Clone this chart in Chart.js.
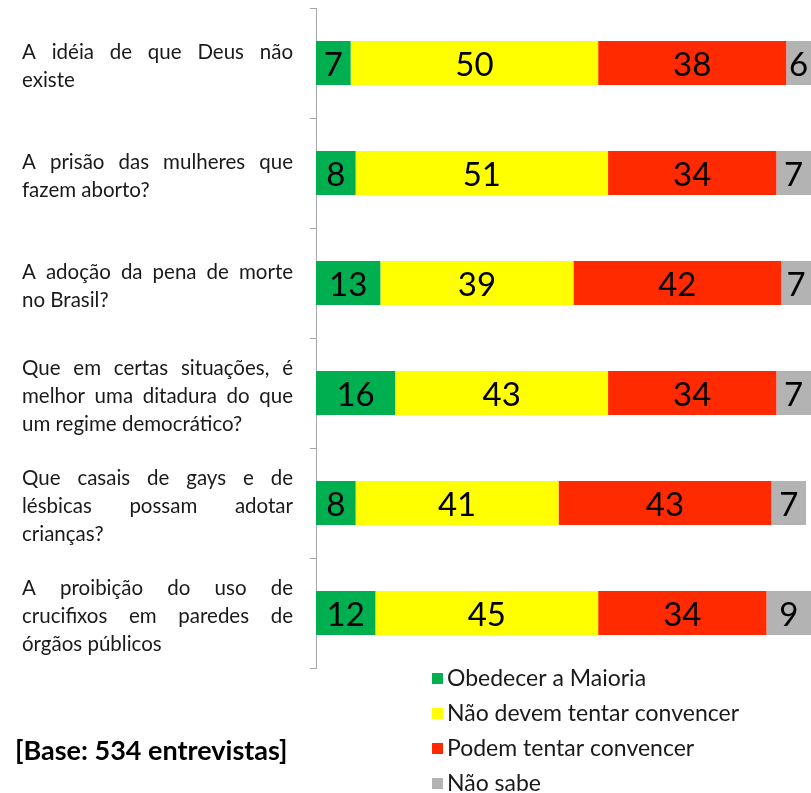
<!DOCTYPE html>
<html lang="pt-BR">
  <head>
    <meta charset="UTF-8" />
    <title>Obedecer a maioria</title>
    <script src="https://cdn.jsdelivr.net/npm/chart.js@4.4.0/dist/chart.umd.min.js"></script>
    <style>
      html, body { margin: 0; padding: 0; background: #fff; overflow: hidden; }
      #wrap { width: 811px; height: 793px; }
    </style>
  </head>
  <body>
    <div id="wrap"><canvas id="chart" width="811" height="793"></canvas></div>

    <script>
      // categorias (linhas do texto da esquerda)
      const categories = [
        ["A idéia de que Deus não", "existe"],
        ["A prisão das mulheres que", "fazem aborto?"],
        ["A adoção da pena de morte", "no Brasil?"],
        ["Que em certas situações, é", "melhor uma ditadura do que", "um regime democrático?"],
        ["Que casais de gays e de", "lésbicas possam adotar", "crianças?"],
        ["A proibição do uso de", "crucifixos em paredes de", "órgãos públicos"],
      ];

      const seriesNames = [
        "Obedecer a Maioria",
        "Não devem tentar convencer",
        "Podem tentar convencer",
        "Não sabe",
      ];
      const obedecer = [7, 8, 13, 16, 8, 12];
      const naoDevem = [50, 51, 39, 43, 41, 45];
      const podem = [38, 34, 42, 34, 43, 34];
      const naoSabe = [6, 7, 7, 7, 7, 9];

      const colors = ["#00b050", "#ffff00", "#ff2a00", "#b3b3b3"];
      const baseNote = "[Base: 534 entrevistas]";
      const FONT = "Lato, 'Liberation Sans', sans-serif";

      // texto justificado à esquerda do eixo
      function drawJustified(ctx, lines, left, width, yCenter, lineH) {
        const top = yCenter - ((lines.length - 1) * lineH) / 2;
        lines.forEach((line, i) => {
          const y = top + i * lineH;
          const words = line.split(" ");
          if (i === lines.length - 1 || words.length < 2) {
            ctx.textAlign = "left";
            ctx.fillText(line, left, y);
            return;
          }
          const total = words.reduce((s, w) => s + ctx.measureText(w).width, 0);
          const gap = (width - total) / (words.length - 1);
          let x = left;
          words.forEach((w) => {
            ctx.fillText(w, x, y);
            x += ctx.measureText(w).width + gap;
          });
        });
      }

      const extras = {
        id: "extras",
        afterDatasetsDraw(chart) {
          const ctx = chart.ctx;
          const right = chart.chartArea.right;
          ctx.save();
          // valores dentro das barras
          ctx.fillStyle = "#000";
          ctx.font = "33px " + FONT;
          ctx.textAlign = "center";
          ctx.textBaseline = "middle";
          chart.data.datasets.forEach((ds, di) => {
            chart.getDatasetMeta(di).data.forEach((bar, i) => {
              const cx = (Math.min(bar.x, right) + bar.base) / 2;
              ctx.fillText(String(ds.data[i]), cx, bar.y + 2);
            });
          });
          ctx.restore();
        },
        afterDraw(chart) {
          const ctx = chart.ctx;
          const y = chart.scales.y;
          ctx.save();
          // rótulos das categorias
          ctx.fillStyle = "#1a1a1a";
          ctx.font = "20.5px " + FONT;
          ctx.textBaseline = "middle";
          categories.forEach((lines, i) => {
            drawJustified(ctx, lines, 22, 271, y.getPixelForValue(i) + 3, 28);
          });

          // legenda vertical
          const lx = 432, ly = 678, step = 35;
          ctx.font = "23px " + FONT;
          ctx.textAlign = "left";
          chart.data.datasets.forEach((ds, i) => {
            const cy = ly + i * step;
            ctx.fillStyle = ds.backgroundColor;
            ctx.fillRect(lx, cy - 5, 11, 11);
            ctx.fillStyle = "#1a1a1a";
            ctx.fillText(ds.label, lx + 15, cy + 1);
          });

          // nota da base
          ctx.font = "bold 27px " + FONT;
          ctx.fillStyle = "#000";
          ctx.fillText(baseNote, 15, 751);
          ctx.restore();
        },
      };

      const values = [obedecer, naoDevem, podem, naoSabe];

      new Chart(document.getElementById("chart"), {
        type: "bar",
        data: {
          labels: categories.map((l) => l.join(" ")),
          datasets: seriesNames.map((name, i) => ({
            label: name,
            data: values[i],
            backgroundColor: colors[i],
            borderWidth: 0,
            categoryPercentage: 1,
            barPercentage: 0.4,
          })),
        },
        options: {
          indexAxis: "y",
          responsive: false,
          animation: false,
          devicePixelRatio: 1,
          layout: { padding: { left: 310, top: 8, bottom: 125, right: 0 } },
          plugins: { legend: { display: false }, tooltip: { enabled: false } },
          scales: {
            x: { stacked: true, display: false, min: 0, max: 100 },
            y: {
              stacked: true,
              ticks: { display: false },
              grid: {
                offset: true,
                drawOnChartArea: false,
                drawTicks: true,
                tickLength: 6,
                color: "#a6a6a6",
              },
              border: { display: true, color: "#a6a6a6", width: 1 },
            },
          },
        },
        plugins: [extras],
      });
    </script>
  </body>
</html>
